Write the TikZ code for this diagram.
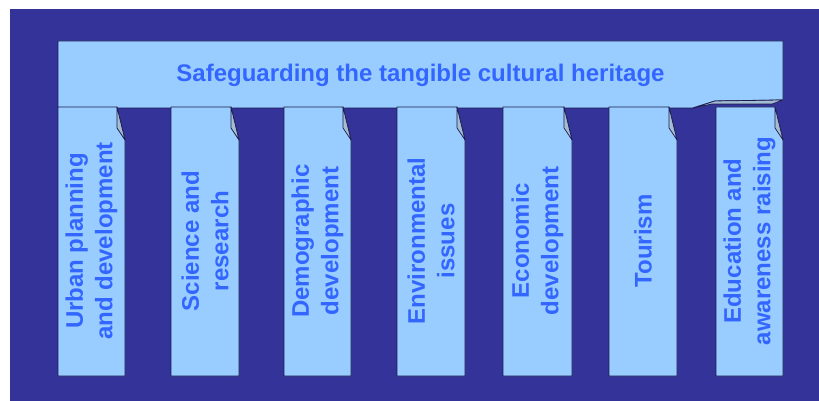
\documentclass[tikz,border=0pt]{standalone}
\usepackage{fontspec}
\setmainfont{Liberation Sans}
\usepackage{tikz}
\definecolor{bgblue}{HTML}{333399}
\definecolor{pale}{HTML}{99CCFF}
\definecolor{inkblue}{HTML}{3366FF}
\definecolor{edge}{HTML}{1C1C4E}
\definecolor{fold}{HTML}{A3BED3}

\begin{document}
\begin{tikzpicture}[x=1pt,y=-1pt,
		slab/.style={fill=pale,draw=edge,line width=0.9pt,line join=round},
		flap/.style={fill=fold,draw=edge,line width=0.7pt,line join=round},
		lbl/.style={text=inkblue,font=\bfseries\fontsize{24}{29.5}\selectfont,align=center},
		vlbl/.style={lbl,rotate=90}]
		\useasboundingbox (0,0) rectangle (819,401);
		\fill[white] (0,0) rectangle (819,401);
		\fill[bgblue] (10,9) rectangle (819,401);
		
		\draw[slab] (58,41) -- (783,41) -- (783,100) -- (715,101) -- (693,108) -- (58,108) -- cycle;
		\draw[flap] (693,108) -- (715,101) -- (783,100) -- (772,104) -- (712,104) -- cycle;
		\node[lbl,anchor=base] (banner) at (420.5,81.5) {Safeguarding the tangible cultural heritage};
		
		\draw[slab] (58,107) -- (117,107) -- (125,140) -- (125,376) -- (58,376) -- cycle;
		\draw[flap] (117,107) -- (125,140) -- (117,128) -- cycle;
		\draw[slab] (171,107) -- (231,107) -- (239,140) -- (239,376) -- (171,376) -- cycle;
		\draw[flap] (231,107) -- (239,140) -- (231,128) -- cycle;
		\draw[slab] (284,107) -- (343,107) -- (351,140) -- (351,376) -- (284,376) -- cycle;
		\draw[flap] (343,107) -- (351,140) -- (343,128) -- cycle;
		\draw[slab] (397,107) -- (457,107) -- (465,140) -- (465,376) -- (397,376) -- cycle;
		\draw[flap] (457,107) -- (465,140) -- (457,128) -- cycle;
		\draw[slab] (503,107) -- (564,107) -- (572,140) -- (572,376) -- (503,376) -- cycle;
		\draw[flap] (564,107) -- (572,140) -- (564,128) -- cycle;
		\draw[slab] (609,107) -- (669,107) -- (677,140) -- (677,376) -- (609,376) -- cycle;
		\draw[flap] (669,107) -- (677,140) -- (669,128) -- cycle;
		\draw[slab] (716,107) -- (775,107) -- (783,140) -- (783,376) -- (716,376) -- cycle;
		\draw[flap] (775,107) -- (783,140) -- (775,128) -- cycle;
		
		\node[vlbl] (urban) at (91.5,241) {Urban planning\\and development};
		\node[vlbl] (science) at (205,241) {Science and\\research};
		\node[vlbl] (demog) at (317.5,241) {Demographic\\development};
		\node[vlbl] (environ) at (431,241) {Environmental\\issues};
		\node[vlbl] (econ) at (537.5,241) {Economic\\development};
		\node[vlbl] (tourism) at (643,241) {Tourism};
		\node[vlbl] (educ) at (749.5,241) {Education and\\awareness raising};
		\end{tikzpicture}
\end{document}
